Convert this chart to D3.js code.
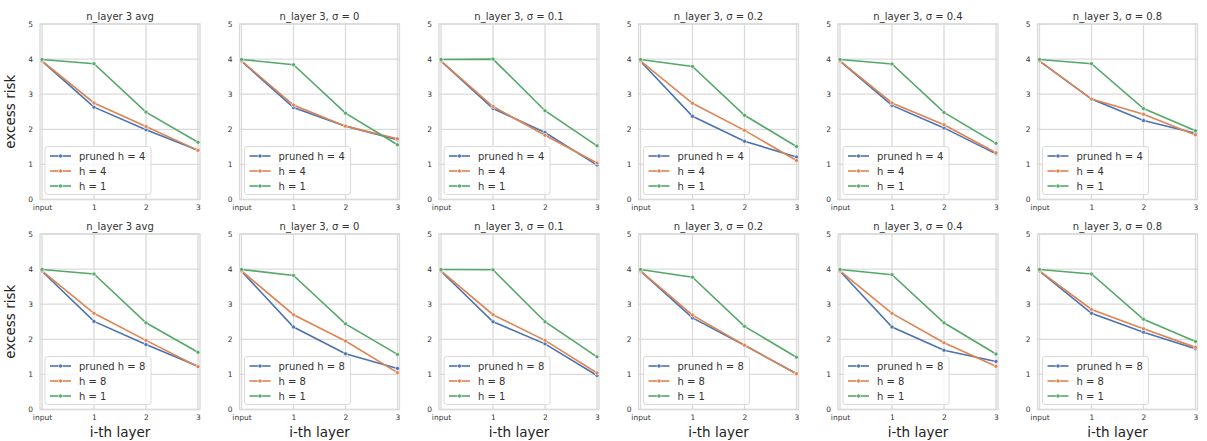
<!DOCTYPE html>
<html>
<head>
<meta charset="utf-8">
<script src="https://cdn.jsdelivr.net/npm/d3@7"></script>
<style>
  body { margin: 0; background: #fff; }
  text { font-family: "DejaVu Sans", sans-serif; }
</style>
</head>
<body>
<svg id="chart" width="1207" height="441"></svg>
<script>
var xLabels = ["input", "1", "2", "3"];
var titles = ["n_layer 3 avg", "n_layer 3, σ = 0", "n_layer 3, σ = 0.1",
  "n_layer 3, σ = 0.2", "n_layer 3, σ = 0.4", "n_layer 3, σ = 0.8"];
var yTicks = [0, 1, 2, 3, 4, 5];

var topNames = ["pruned h = 4", "h = 4", "h = 1"];
var botNames = ["pruned h = 8", "h = 8", "h = 1"];

// top row (h = 4)
var prunedH4 = [
  [3.94, 2.63, 1.99, 1.40],
  [3.94, 2.62, 2.09, 1.70],
  [3.94, 2.59, 1.91, 0.98],
  [3.94, 2.37, 1.66, 1.21],
  [3.94, 2.68, 2.04, 1.30],
  [3.94, 2.86, 2.25, 1.89]
];
var h4 = [
  [3.95, 2.75, 2.08, 1.40],
  [3.95, 2.69, 2.09, 1.73],
  [3.95, 2.65, 1.83, 1.04],
  [3.95, 2.74, 1.97, 1.11],
  [3.95, 2.75, 2.13, 1.33],
  [3.95, 2.86, 2.43, 1.84]
];
var h1Top = [
  [3.99, 3.87, 2.49, 1.63],
  [3.99, 3.84, 2.46, 1.56],
  [3.99, 4.00, 2.53, 1.53],
  [3.99, 3.79, 2.40, 1.51],
  [3.99, 3.86, 2.48, 1.60],
  [3.99, 3.87, 2.59, 1.96]
];

// bottom row (h = 8)
var prunedH8 = [
  [3.94, 2.51, 1.85, 1.23],
  [3.94, 2.35, 1.59, 1.17],
  [3.94, 2.50, 1.87, 0.97],
  [3.94, 2.61, 1.83, 1.02],
  [3.94, 2.35, 1.69, 1.37],
  [3.94, 2.74, 2.20, 1.73]
];
var h8 = [
  [3.95, 2.74, 1.97, 1.22],
  [3.95, 2.70, 1.95, 1.05],
  [3.95, 2.70, 1.97, 1.04],
  [3.95, 2.69, 1.83, 1.02],
  [3.95, 2.74, 1.90, 1.23],
  [3.95, 2.85, 2.30, 1.77]
];
var h1Bot = [
  [3.99, 3.86, 2.47, 1.63],
  [3.99, 3.82, 2.44, 1.57],
  [3.99, 3.98, 2.50, 1.50],
  [3.99, 3.77, 2.37, 1.49],
  [3.99, 3.84, 2.47, 1.58],
  [3.99, 3.86, 2.57, 1.94]
];

var colors = ["#4c72b0", "#dd8452", "#55a868"];
var gridColor = "#dadada";
var textColor = "#333";

var svg = d3.select("#chart");
var panelW = 160, panelH = 175.5;
var lefts = [40, 239.5, 439, 638.5, 838, 1037.5];
var tops = [24, 234];

var rows = [
  { names: topNames, series: [prunedH4, h4, h1Top], xlabel: false },
  { names: botNames, series: [prunedH8, h8, h1Bot], xlabel: true }
];

var xPad = 2;
var x = d3.scalePoint().domain(xLabels).range([xPad, panelW - xPad]);
var y = d3.scaleLinear().domain([0, 5]).range([panelH, 0]);

var line = d3.line()
  .x(function (d, i) { return x(xLabels[i]); })
  .y(function (d) { return y(d); });

rows.forEach(function (row, r) {
  lefts.forEach(function (left, p) {
    var g = svg.append("g").attr("transform", "translate(" + left + "," + tops[r] + ")");

    // grid
    g.selectAll(".gy").data(yTicks).enter().append("line")
      .attr("x1", 0).attr("x2", panelW)
      .attr("y1", function (d) { return y(d); }).attr("y2", function (d) { return y(d); })
      .attr("stroke", gridColor).attr("stroke-width", 1.3);
    g.selectAll(".gx").data(xLabels).enter().append("line")
      .attr("y1", 0).attr("y2", panelH)
      .attr("x1", function (d) { return x(d); }).attr("x2", function (d) { return x(d); })
      .attr("stroke", gridColor).attr("stroke-width", 1.3);

    // frame
    g.append("rect").attr("width", panelW).attr("height", panelH)
      .attr("fill", "none").attr("stroke", gridColor).attr("stroke-width", 1.3);

    // axes (tick labels only)
    var yAxis = g.append("g").call(d3.axisLeft(y).tickValues(yTicks)
      .tickFormat(d3.format("d")).tickSize(0).tickPadding(7));
    var xAxis = g.append("g").attr("transform", "translate(0," + panelH + ")")
      .call(d3.axisBottom(x).tickSize(0).tickPadding(5));
    [yAxis, xAxis].forEach(function (a) {
      a.select(".domain").remove();
      a.selectAll("text").attr("fill", textColor).style("font-size", "7.5px")
        .style("font-family", "DejaVu Sans, sans-serif");
    });

    // title
    g.append("text").attr("x", panelW / 2).attr("y", -4)
      .attr("text-anchor", "middle").attr("fill", textColor)
      .style("font-size", "10px").text(titles[p]);

    // lines
    row.series.forEach(function (s, k) {
      var vals = s[p];
      g.append("path").attr("d", line(vals)).attr("fill", "none")
        .attr("stroke", colors[k]).attr("stroke-width", 1.6);
      g.selectAll(".m" + k).data(vals).enter().append("circle")
        .attr("cx", function (d, i) { return x(xLabels[i]); })
        .attr("cy", function (d) { return y(d); })
        .attr("r", 2).attr("fill", colors[k])
        .attr("stroke", "#fff").attr("stroke-width", 0.6);
    });

    // legend
    var lg = g.append("g").attr("transform", "translate(5," + (panelH - 53) + ")");
    lg.append("rect").attr("width", 106).attr("height", 48).attr("rx", 2.5)
      .attr("fill", "#fff").attr("fill-opacity", 0.8)
      .attr("stroke", gridColor).attr("stroke-width", 1);
    row.names.forEach(function (name, k) {
      var ly = 9.5 + k * 15;
      lg.append("line").attr("x1", 5).attr("x2", 26).attr("y1", ly).attr("y2", ly)
        .attr("stroke", colors[k]).attr("stroke-width", 1.6);
      lg.append("circle").attr("cx", 15.5).attr("cy", ly).attr("r", 2)
        .attr("fill", colors[k]).attr("stroke", "#fff").attr("stroke-width", 0.6);
      lg.append("text").attr("x", 34).attr("y", ly).attr("dy", "0.35em")
        .attr("fill", textColor).style("font-size", "10px").text(name);
    });

    // axis labels
    if (p === 0) {
      g.append("text")
        .attr("transform", "translate(-25," + (panelH / 2) + ") rotate(-90)")
        .attr("text-anchor", "middle").attr("fill", "#222")
        .style("font-size", "13.5px").text("excess risk");
    }
    if (row.xlabel) {
      g.append("text").attr("x", panelW / 2).attr("y", panelH + 27)
        .attr("text-anchor", "middle").attr("fill", "#222")
        .style("font-size", "13.5px").text("i-th layer");
    }
  });
});
</script>
</body>
</html>
